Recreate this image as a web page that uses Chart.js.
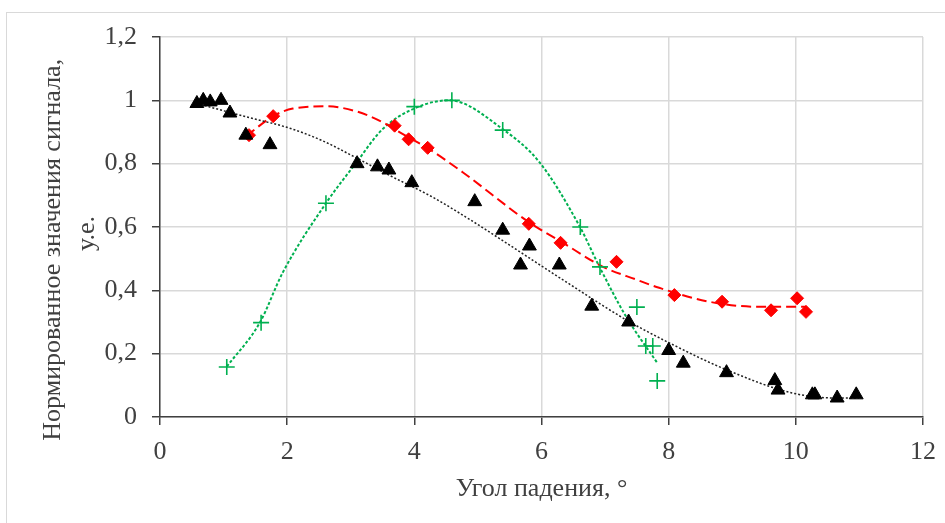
<!DOCTYPE html>
<html>
<head>
<meta charset="utf-8">
<script src="https://cdn.jsdelivr.net/npm/chart.js@4"></script>
<style>
  body { margin: 0; background: #fff; }
</style>
</head>
<body>
<canvas id="signalChart" width="945" height="523"></canvas>
<script>
// x / y ticks
const xTicks = [0, 2, 4, 6, 8, 10, 12];
const yTicks = [0, 0.2, 0.4, 0.6, 0.8, 1, 1.2];

// black triangles
const blackX = [0.58, 0.68, 0.79, 0.96, 1.1, 1.35, 1.73, 3.1, 3.42, 3.6, 3.96, 4.95, 5.39, 5.67, 5.81, 6.28, 6.79, 7.37, 8.0, 8.23, 8.91, 9.67, 9.72, 10.26, 10.3, 10.65, 10.95];
const blackY = [0.99, 1.0, 0.995, 1.0, 0.96, 0.89, 0.86, 0.80, 0.79, 0.78, 0.74, 0.68, 0.59, 0.48, 0.54, 0.48, 0.35, 0.30, 0.21, 0.17, 0.14, 0.115, 0.085, 0.07, 0.07, 0.06, 0.07];
// black trend (dotted)
const blackTrendX = [0.58, 1.41, 2.04, 2.56, 3.09, 3.61, 4.29, 4.87, 5.29, 6.33, 7.33, 8.01, 8.91, 9.94, 10.63, 10.99];
const blackTrendY = [0.99, 0.945, 0.912, 0.872, 0.818, 0.763, 0.694, 0.624, 0.57, 0.434, 0.307, 0.234, 0.149, 0.076, 0.06, 0.06];

// red diamonds
const redX = [1.40, 1.78, 3.69, 3.91, 4.21, 5.80, 6.30, 7.18, 8.09, 8.84, 9.61, 10.02, 10.16];
const redY = [0.89, 0.95, 0.92, 0.877, 0.85, 0.61, 0.55, 0.49, 0.385, 0.364, 0.337, 0.375, 0.332];
// red trend (dashed)
const redTrendX = [1.36, 1.78, 2.09, 2.62, 3.09, 3.50, 3.82, 4.24, 4.76, 5.81, 6.33, 6.96, 7.49, 7.85, 8.64, 9.42, 10.16];
const redTrendY = [0.888, 0.95, 0.974, 0.981, 0.965, 0.931, 0.893, 0.845, 0.773, 0.614, 0.551, 0.475, 0.434, 0.408, 0.364, 0.348, 0.348];

// green crosses
const greenX = [1.05, 1.59, 2.61, 4.0, 4.59, 5.39, 6.61, 6.92, 7.50, 7.64, 7.75, 7.82];
const greenY = [0.158, 0.298, 0.675, 0.98, 1.0, 0.906, 0.60, 0.474, 0.347, 0.224, 0.224, 0.114];
// green trend (dashed)
const greenTrendX = [1.05, 1.57, 1.93, 2.62, 3.09, 3.50, 4.04, 4.55, 5.39, 5.97, 6.60, 6.91, 7.33, 7.82];
const greenTrendY = [0.159, 0.298, 0.456, 0.678, 0.804, 0.909, 0.978, 1.0, 0.909, 0.804, 0.602, 0.475, 0.317, 0.171];

const toPoints = (xs, ys) => xs.map((x, i) => ({ x: x, y: ys[i] }));
const fmt = (v) => String(Number(v.toFixed(1))).replace(".", ",");

const RED = "#ff0000";
const GREEN = "#00b050";

// белый фон + рамка
const frame = {
  id: "frame",
  beforeDraw(chart) {
    const c = chart.ctx;
    c.save();
    c.fillStyle = "#fff";
    c.fillRect(0, 0, chart.width, chart.height);
    c.strokeStyle = "#d9d9d9";
    c.lineWidth = 1;
    c.strokeRect(6.5, 12.5, chart.width, chart.height);
    c.restore();
  },
};

const serif = "'Liberation Serif', 'Times New Roman', serif";

const trend = (points, color, width, dash) => ({
  data: points,
  showLine: true,
  pointRadius: 0,
  borderColor: color,
  borderWidth: width,
  borderDash: dash,
  cubicInterpolationMode: "monotone",
  order: 2,
});

const ctx = document.getElementById("signalChart").getContext("2d");
const signalChart = new Chart(ctx, {
  type: "scatter",
  data: {
    datasets: [
      {
        data: toPoints(blackX, blackY),
        pointStyle: "triangle",
        pointRadius: 8,
        backgroundColor: "#000",
        borderColor: "#000",
        borderWidth: 1,
        order: 1,
      },
      {
        data: toPoints(redX, redY),
        pointStyle: "rectRot",
        pointRadius: 6.5,
        backgroundColor: RED,
        borderColor: RED,
        borderWidth: 1,
        order: 1,
      },
      {
        data: toPoints(greenX, greenY),
        pointStyle: "cross",
        pointRadius: 8,
        backgroundColor: GREEN,
        borderColor: GREEN,
        borderWidth: 1.6,
        order: 1,
      },
      trend(toPoints(blackTrendX, blackTrendY), "#222", 1.5, [2, 2]),
      trend(toPoints(redTrendX, redTrendY), RED, 2, [10, 5]),
      trend(toPoints(greenTrendX, greenTrendY), GREEN, 2, [3, 2]),
    ],
  },
  options: {
    responsive: false,
    animation: false,
    layout: {
      padding: { left: 6, top: 37, right: 22, bottom: 0 },
    },
    scales: {
      x: {
        type: "linear",
        min: 0,
        max: 12,
        afterBuildTicks: (axis) => {
          axis.ticks = xTicks.map((v) => ({ value: v }));
        },
        afterFit: (axis) => {
          axis.height = 106;
        },
        ticks: {
          color: "#404040",
          padding: 8,
          maxRotation: 0,
          font: { family: serif, size: 26, lineHeight: 1.45 },
          callback: (v) => fmt(v),
        },
        grid: {
          color: "#d9d9d9",
          lineWidth: 1.5,
          tickLength: 8,
          tickColor: "#404040",
        },
        border: { color: "#404040", width: 1.5 },
        title: {
          display: true,
          text: "Угол падения, °",
          color: "#404040",
          font: { family: serif, size: 26 },
          padding: { top: 0, bottom: 18 },
        },
      },
      y: {
        type: "linear",
        min: 0,
        max: 1.2,
        afterBuildTicks: (axis) => {
          axis.ticks = yTicks.map((v) => ({ value: v }));
        },
        afterFit: (axis) => {
          axis.width = 154;
        },
        ticks: {
          color: "#404040",
          padding: 15,
          font: { family: serif, size: 26 },
          callback: (v) => fmt(v),
        },
        grid: {
          color: "#d9d9d9",
          lineWidth: 1.5,
          tickLength: 8,
          tickColor: "#404040",
        },
        border: { color: "#404040", width: 1.5 },
        title: {
          display: true,
          // хвостовые пробелы чуть сдвигают подпись вниз, как в оригинале
          text: ["Нормированное значения сигнала,       ", "у.е.  "],
          color: "#404040",
          font: { family: serif, size: 26, lineHeight: 1.3 },
          padding: { top: 30, bottom: 0 },
        },
      },
    },
    plugins: {
      legend: { display: false },
      tooltip: { enabled: false },
    },
  },
  plugins: [frame],
});
</script>
</body>
</html>
